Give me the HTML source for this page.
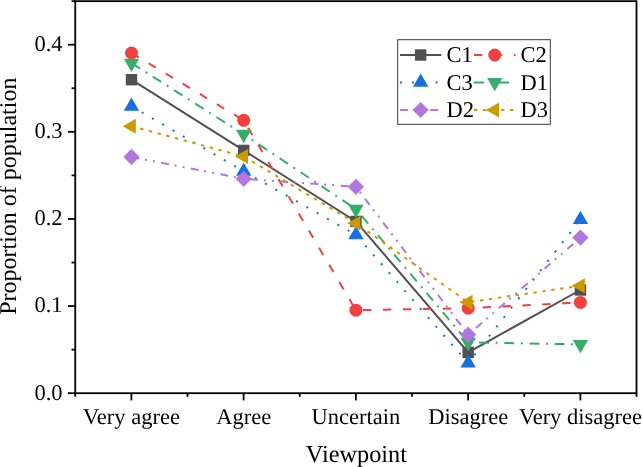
<!DOCTYPE html>
<html><head><meta charset="utf-8"><style>
html,body{margin:0;padding:0;background:#fff;}
body{width:642px;height:467px;overflow:hidden;font-family:"Liberation Serif",serif;}
svg{display:block;will-change:transform;} text{text-rendering:geometricPrecision;}
</style></head><body>
<svg width="642" height="467" viewBox="0 0 642 467">
<rect width="642" height="467" fill="#fff"/>
<g stroke="#000" stroke-width="1.8" fill="none">
<rect x="75.25" y="1.15" width="561.25" height="392.05"/>
<line x1="67.95" y1="393.20" x2="75.25" y2="393.20"/><line x1="71.55" y1="349.64" x2="75.25" y2="349.64"/><line x1="67.95" y1="306.08" x2="75.25" y2="306.08"/><line x1="71.55" y1="262.52" x2="75.25" y2="262.52"/><line x1="67.95" y1="218.96" x2="75.25" y2="218.96"/><line x1="71.55" y1="175.39" x2="75.25" y2="175.39"/><line x1="67.95" y1="131.83" x2="75.25" y2="131.83"/><line x1="71.55" y1="88.27" x2="75.25" y2="88.27"/><line x1="67.95" y1="44.71" x2="75.25" y2="44.71"/><line x1="71.55" y1="1.15" x2="75.25" y2="1.15"/><line x1="75.25" y1="393.20" x2="75.25" y2="396.80"/><line x1="131.38" y1="393.20" x2="131.38" y2="400.40"/><line x1="187.50" y1="393.20" x2="187.50" y2="396.80"/><line x1="243.62" y1="393.20" x2="243.62" y2="400.40"/><line x1="299.75" y1="393.20" x2="299.75" y2="396.80"/><line x1="355.88" y1="393.20" x2="355.88" y2="400.40"/><line x1="412.00" y1="393.20" x2="412.00" y2="396.80"/><line x1="468.12" y1="393.20" x2="468.12" y2="400.40"/><line x1="524.25" y1="393.20" x2="524.25" y2="396.80"/><line x1="580.38" y1="393.20" x2="580.38" y2="400.40"/><line x1="636.50" y1="393.20" x2="636.50" y2="396.80"/>
</g>
<g><polyline points="131.47,79.70 243.71,150.40 355.95,221.40 468.19,352.40 580.43,290.00" fill="none" stroke="#515151" stroke-width="2.0"/><polyline points="131.47,53.00 243.71,120.30 355.95,310.20 468.19,308.20 580.43,302.40" fill="none" stroke="#F14040" stroke-width="2.0" stroke-dasharray="8.4 11.52"/><polyline points="131.47,106.30 243.71,171.30 355.95,234.90 468.19,363.10 580.43,219.50" fill="none" stroke="#1A6FDF" stroke-width="2.0" stroke-dasharray="2 9.87"/><polyline points="131.47,63.10 243.71,134.30 355.95,209.10 468.19,342.30 580.43,344.40" fill="none" stroke="#37AD6B" stroke-width="2.0" stroke-dasharray="10 6.58 2 6.58"/><polyline points="131.47,156.90 243.71,178.80 355.95,186.80 468.19,334.70 580.43,237.60" fill="none" stroke="#B177DE" stroke-width="2.0" stroke-dasharray="8 5.65 2 6.15 2 6.4"/><polyline points="131.47,126.20 243.71,156.50 355.95,223.20 468.19,302.20 580.43,285.80" fill="none" stroke="#CC9900" stroke-width="2.0" stroke-dasharray="3.4 5.6"/></g>
<g><rect x="125.77" y="74.00" width="11.4" height="11.4" fill="#515151"/><rect x="238.01" y="144.70" width="11.4" height="11.4" fill="#515151"/><rect x="350.25" y="215.70" width="11.4" height="11.4" fill="#515151"/><rect x="462.49" y="346.70" width="11.4" height="11.4" fill="#515151"/><rect x="574.73" y="284.30" width="11.4" height="11.4" fill="#515151"/><circle cx="131.47" cy="53.00" r="6.5" fill="#F14040"/><circle cx="243.71" cy="120.30" r="6.5" fill="#F14040"/><circle cx="355.95" cy="310.20" r="6.5" fill="#F14040"/><circle cx="468.19" cy="308.20" r="6.5" fill="#F14040"/><circle cx="580.43" cy="302.40" r="6.5" fill="#F14040"/><polygon points="131.47,97.43 139.17,110.73 123.77,110.73" fill="#1A6FDF"/><polygon points="243.71,162.43 251.41,175.73 236.01,175.73" fill="#1A6FDF"/><polygon points="355.95,226.03 363.65,239.33 348.25,239.33" fill="#1A6FDF"/><polygon points="468.19,354.23 475.89,367.53 460.49,367.53" fill="#1A6FDF"/><polygon points="580.43,210.63 588.13,223.93 572.73,223.93" fill="#1A6FDF"/><polygon points="123.77,58.67 139.17,58.67 131.47,71.97" fill="#37AD6B"/><polygon points="236.01,129.87 251.41,129.87 243.71,143.17" fill="#37AD6B"/><polygon points="348.25,204.67 363.65,204.67 355.95,217.97" fill="#37AD6B"/><polygon points="460.49,337.87 475.89,337.87 468.19,351.17" fill="#37AD6B"/><polygon points="572.73,339.97 588.13,339.97 580.43,353.27" fill="#37AD6B"/><polygon points="131.47,148.80 139.57,156.90 131.47,165.00 123.37,156.90" fill="#B177DE"/><polygon points="243.71,170.70 251.81,178.80 243.71,186.90 235.61,178.80" fill="#B177DE"/><polygon points="355.95,178.70 364.05,186.80 355.95,194.90 347.85,186.80" fill="#B177DE"/><polygon points="468.19,326.60 476.29,334.70 468.19,342.80 460.09,334.70" fill="#B177DE"/><polygon points="580.43,229.50 588.53,237.60 580.43,245.70 572.33,237.60" fill="#B177DE"/><polygon points="122.74,126.20 135.84,118.70 135.84,133.70" fill="#CC9900"/><polygon points="234.98,156.50 248.08,149.00 248.08,164.00" fill="#CC9900"/><polygon points="347.22,223.20 360.32,215.70 360.32,230.70" fill="#CC9900"/><polygon points="459.46,302.20 472.56,294.70 472.56,309.70" fill="#CC9900"/><polygon points="571.70,285.80 584.80,278.30 584.80,293.30" fill="#CC9900"/></g>
<g><rect x="397.7" y="39.7" width="152.60" height="84.60" fill="#fff" stroke="#3a3a3a" stroke-width="1"/><line x1="400.0" y1="55.0" x2="441.3" y2="55.0" stroke="#515151" stroke-width="2.0"/><rect x="414.95" y="49.30" width="11.4" height="11.4" fill="#515151"/><text x="446.6" y="62.30" font-size="22.5" style="font-family:'Liberation Serif',serif">C1</text><line x1="474.0" y1="55.0" x2="515.5" y2="55.0" stroke="#F14040" stroke-width="2.0" stroke-dasharray="8.4 11.52"/><circle cx="494.75" cy="55.00" r="6.5" fill="#F14040"/><text x="520.6" y="62.30" font-size="22.5" style="font-family:'Liberation Serif',serif">C2</text><line x1="400.0" y1="82.4" x2="441.3" y2="82.4" stroke="#1A6FDF" stroke-width="2.0" stroke-dasharray="2 9.87"/><polygon points="420.65,73.53 428.35,86.83 412.95,86.83" fill="#1A6FDF"/><text x="446.6" y="89.70" font-size="22.5" style="font-family:'Liberation Serif',serif">C3</text><line x1="474.0" y1="82.4" x2="515.5" y2="82.4" stroke="#37AD6B" stroke-width="2.0" stroke-dasharray="10 6.58 2 6.58"/><polygon points="487.05,77.97 502.45,77.97 494.75,91.27" fill="#37AD6B"/><text x="520.6" y="89.70" font-size="22.5" style="font-family:'Liberation Serif',serif">D1</text><line x1="400.0" y1="110.0" x2="441.3" y2="110.0" stroke="#B177DE" stroke-width="2.0" stroke-dasharray="8 5.65 2 6.15 2 6.4"/><polygon points="420.65,101.90 428.75,110.00 420.65,118.10 412.55,110.00" fill="#B177DE"/><text x="446.6" y="117.30" font-size="22.5" style="font-family:'Liberation Serif',serif">D2</text><line x1="474.0" y1="110.0" x2="515.5" y2="110.0" stroke="#CC9900" stroke-width="2.0" stroke-dasharray="3.4 5.6"/><polygon points="486.02,110.00 499.12,102.50 499.12,117.50" fill="#CC9900"/><text x="520.6" y="117.30" font-size="22.5" style="font-family:'Liberation Serif',serif">D3</text></g>
<g fill="#000"><text x="62.5" y="399.60" text-anchor="end" font-size="22.5" style="font-family:'Liberation Serif',serif">0.0</text><text x="62.5" y="312.48" text-anchor="end" font-size="22.5" style="font-family:'Liberation Serif',serif">0.1</text><text x="62.5" y="225.36" text-anchor="end" font-size="22.5" style="font-family:'Liberation Serif',serif">0.2</text><text x="62.5" y="138.23" text-anchor="end" font-size="22.5" style="font-family:'Liberation Serif',serif">0.3</text><text x="62.5" y="51.11" text-anchor="end" font-size="22.5" style="font-family:'Liberation Serif',serif">0.4</text><text x="131.47" y="423.9" text-anchor="middle" font-size="22.5" style="font-family:'Liberation Serif',serif">Very agree</text><text x="243.71" y="423.9" text-anchor="middle" font-size="22.5" style="font-family:'Liberation Serif',serif">Agree</text><text x="355.95" y="423.9" text-anchor="middle" font-size="22.5" style="font-family:'Liberation Serif',serif">Uncertain</text><text x="468.19" y="423.9" text-anchor="middle" font-size="22.5" style="font-family:'Liberation Serif',serif">Disagree</text><text x="580.43" y="423.9" text-anchor="middle" font-size="22.5" style="font-family:'Liberation Serif',serif">Very disagree</text><text x="356.4" y="461.5" text-anchor="middle" font-size="24.3" style="font-family:'Liberation Serif',serif">Viewpoint</text><text transform="translate(16.2,196.2) rotate(-90)" x="0" y="0" text-anchor="middle" font-size="24" style="font-family:'Liberation Serif',serif">Proportion of population</text></g>
</svg>
</body></html>
